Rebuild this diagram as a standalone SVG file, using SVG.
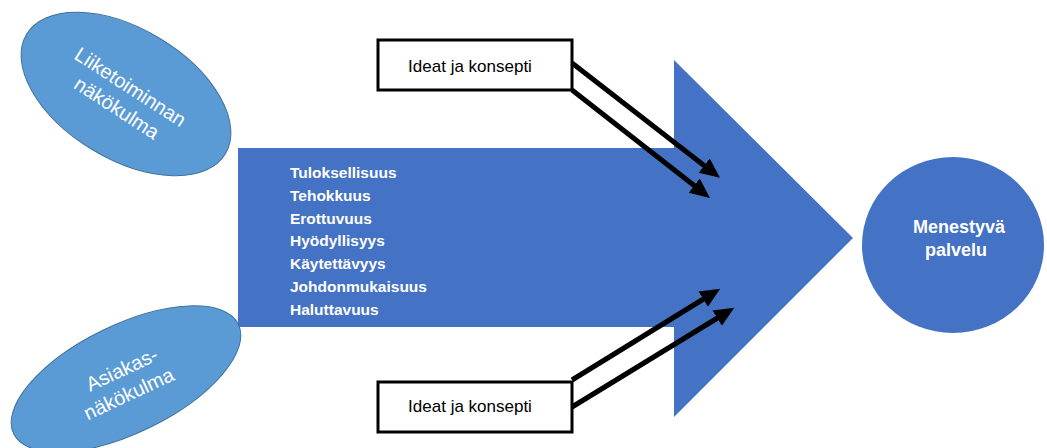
<svg xmlns="http://www.w3.org/2000/svg" width="1047" height="448" viewBox="0 0 1047 448">
  <style>
    .lbl { font-family: "Liberation Sans", Arial, sans-serif; fill: #ffffff; }
    .bold { font-weight: bold; }
    .box { fill: #ffffff; stroke: #000000; stroke-width: 3; }
    .boxtxt { font-family: "Liberation Sans", Arial, sans-serif; font-size: 17px; fill: #000000; text-anchor: middle; }
    .oval { fill: #5B9BD5; stroke: #41719C; stroke-width: 1; }
    .main { fill: #4472C4; }
    .conn { stroke: #000000; stroke-width: 5; fill: none; marker-end: url(#ah); }
  </style>
  <defs>
    <marker id="ah" markerUnits="userSpaceOnUse" markerWidth="22" markerHeight="20" refX="8" refY="9" orient="auto">
      <path d="M0,0 L20,9 L0,18 z" fill="#000000"/>
    </marker>
  </defs>
  <rect width="1047" height="448" fill="#ffffff"/>

  <g id="big-arrow">
    <polygon class="main" points="238,148 674,148 674,60 853,238 674,417 674,327 238,327"/>
    <g class="lbl bold" font-size="15.5">
      <text x="290" y="178">Tuloksellisuus</text>
      <text x="290" y="201">Tehokkuus</text>
      <text x="290" y="224">Erottuvuus</text>
      <text x="290" y="246">Hyödyllisyys</text>
      <text x="290" y="269">Käytettävyys</text>
      <text x="290" y="292">Johdonmukaisuus</text>
      <text x="290" y="315">Haluttavuus</text>
    </g>
  </g>

  <g id="business-view">
    <ellipse class="oval" cx="0" cy="0" rx="116" ry="65" transform="translate(126,94) rotate(31)"/>
    <g transform="translate(124,97) rotate(33)" class="lbl" font-size="20" text-anchor="middle">
      <text x="0" y="-5">Liiketoiminnan</text>
      <text x="0" y="20">näkökulma</text>
    </g>
  </g>

  <g id="customer-view">
    <ellipse class="oval" cx="0" cy="0" rx="125" ry="54" transform="translate(126,379) rotate(-26)"/>
    <g transform="translate(125,381) rotate(-25)" class="lbl" font-size="20" text-anchor="middle">
      <text x="2" y="-5">Asiakas-</text>
      <text x="-2" y="20">näkökulma</text>
    </g>
  </g>

  <g id="result">
    <ellipse class="main" cx="953" cy="245" rx="91" ry="88"/>
    <g class="lbl bold" font-size="18" text-anchor="middle">
      <text x="959" y="233">Menestyvä</text>
      <text x="956" y="256">palvelu</text>
    </g>
  </g>

  <g id="ideas-top">
    <rect class="box" x="378" y="40" width="194" height="50"/>
    <text class="boxtxt" x="470" y="72">Ideat ja konsepti</text>
  </g>

  <g id="ideas-bottom">
    <rect class="box" x="378" y="382" width="194" height="50"/>
    <text class="boxtxt" x="470" y="412">Ideat ja konsepti</text>
  </g>

  <g id="connectors">
    <line class="conn" x1="572" y1="63" x2="710.5" y2="170.5"/>
    <line class="conn" x1="572" y1="90" x2="700.5" y2="190.5"/>
    <line class="conn" x1="572" y1="380" x2="710" y2="295"/>
    <line class="conn" x1="572" y1="407" x2="724" y2="314"/>
  </g>
</svg>
